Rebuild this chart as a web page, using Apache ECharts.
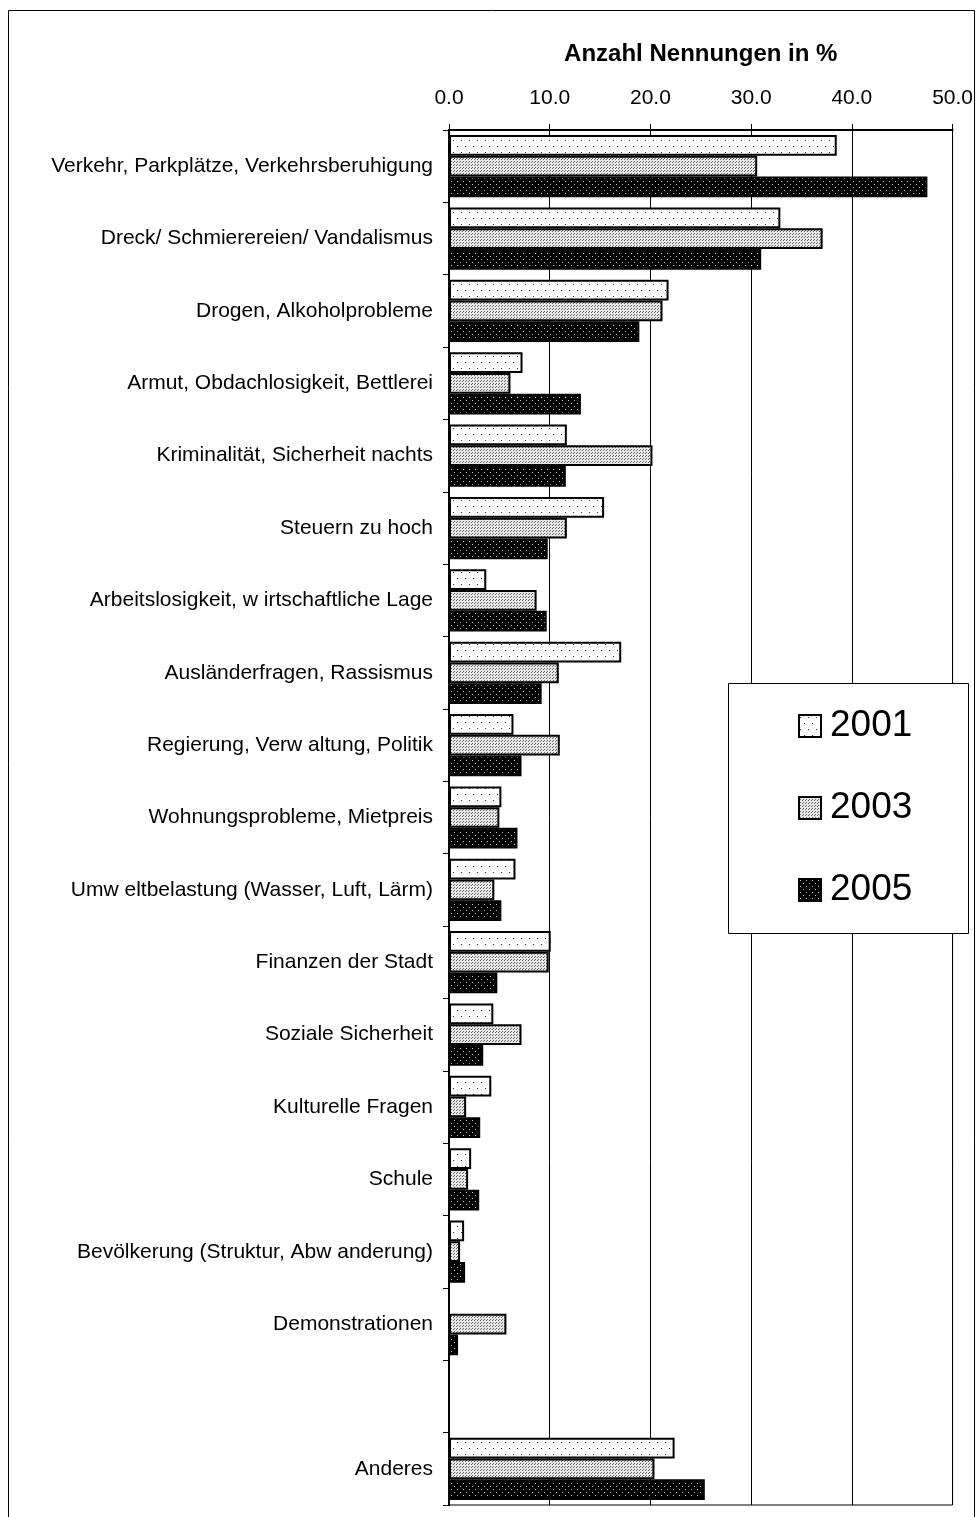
<!DOCTYPE html>
<html>
<head>
<meta charset="utf-8">
<script src="https://cdn.jsdelivr.net/npm/echarts@6/dist/echarts.min.js"></script>
<style>
  html, body { margin: 0; padding: 0; background: #fff; }
  #main { width: 976px; height: 1517px; }
</style>
</head>
<body>
<div id="main"></div>
<script>
// categories, top to bottom ('' = empty row before "Anderes")
var categories = [
  'Verkehr, Parkplätze, Verkehrsberuhigung',
  'Dreck/ Schmierereien/ Vandalismus',
  'Drogen, Alkoholprobleme',
  'Armut, Obdachlosigkeit, Bettlerei',
  'Kriminalität, Sicherheit nachts',
  'Steuern zu hoch',
  'Arbeitslosigkeit, w irtschaftliche Lage',
  'Ausländerfragen, Rassismus',
  'Regierung, Verw altung, Politik',
  'Wohnungsprobleme, Mietpreis',
  'Umw eltbelastung (Wasser, Luft, Lärm)',
  'Finanzen der Stadt',
  'Soziale Sicherheit',
  'Kulturelle Fragen',
  'Schule',
  'Bevölkerung (Struktur, Abw anderung)',
  'Demonstrationen',
  '',
  'Anderes'
];
var years = ['2001', '2003', '2005'];
var v2001 = [38.5, 32.9, 21.8, 7.3, 11.7, 15.4, 3.7, 17.1, 6.4, 5.2, 6.6, 10.1, 4.4, 4.2, 2.2, 1.5, null, null, 22.4];
var v2003 = [30.6, 37.1, 21.2, 6.1, 20.2, 11.7, 8.7, 10.9, 11.0, 5.0, 4.5, 9.9, 7.2, 1.7, 1.9, 1.1, 5.7, null, 20.4];
var v2005 = [47.5, 31.0, 18.9, 13.1, 11.6, 9.8, 9.7, 9.2, 7.2, 6.8, 5.2, 4.8, 3.4, 3.1, 3.0, 1.6, 0.9, null, 25.4];

// small dotted fill patterns
function dots(bg, fg, w, h, pts) {
  var c = document.createElement('canvas');
  c.width = w; c.height = h;
  var g = c.getContext('2d');
  g.fillStyle = bg; g.fillRect(0, 0, w, h);
  g.fillStyle = fg;
  pts.forEach(function (p) { g.fillRect(p[0], p[1], 1, 1); });
  return { image: c, repeat: 'repeat' };
}
var fills = [
  dots('#ffffff', '#333333', 8, 12, [[1, 2], [5, 8]]),
  dots('#e8e8e8', '#666666', 3, 3, [[0, 0], [1, 2]]),
  dots('#000000', '#c8c8c8', 6, 6, [[1, 1], [4, 4]])
];
var allData = [v2001, v2003, v2005];

var chart = echarts.init(document.getElementById('main'));
var option = {
  backgroundColor: '#fff',
  animation: false,
  textStyle: { fontFamily: 'Liberation Sans, Arial, sans-serif', color: '#000' },
  grid: {
    left: 449, right: 23, top: 130, bottom: 12,
    show: true, borderColor: '#000', borderWidth: 1
  },
  legend: {
    orient: 'vertical',
    left: 798, top: 706,
    padding: 0,
    icon: 'rect',
    itemWidth: 22, itemHeight: 22,
    itemGap: 42,
    textStyle: { fontSize: 37, lineHeight: 40, color: '#000', padding: [0, 0, 0, 4] },
    data: years
  },
  xAxis: {
    type: 'value',
    position: 'top',
    min: 0, max: 50, interval: 10,
    name: 'Anzahl Nennungen in %',
    nameLocation: 'middle',
    nameGap: 64,
    nameTextStyle: { fontSize: 24, fontWeight: 'bold', color: '#000' },
    axisLine: { show: true, lineStyle: { color: '#000', width: 2 } },
    axisTick: { show: true, length: 6, lineStyle: { color: '#000' } },
    axisLabel: {
      fontSize: 21, color: '#000', margin: 21,
      formatter: function (v) { return v.toFixed(1); }
    },
    splitLine: { show: true, lineStyle: { color: '#000', width: 1 } }
  },
  yAxis: {
    type: 'category',
    inverse: true,
    data: categories,
    axisLine: { show: true, lineStyle: { color: '#000', width: 2 } },
    axisTick: { show: true, length: 6, lineStyle: { color: '#000' } },
    axisLabel: { fontSize: 21, color: '#000', margin: 16 }
  },
  series: years.map(function (y, i) {
    return {
      name: y,
      type: 'bar',
      data: allData[i],
      barGap: '0%',
      barCategoryGap: '14%',
      itemStyle: { color: fills[i], borderColor: '#000', borderWidth: 2 }
    };
  }),
  graphic: [
    { type: 'rect', shape: { x: 8.5, y: 10.5, width: 966, height: 1530 },
      style: { fill: 'none', stroke: '#000', lineWidth: 1 }, silent: true, z: -1 },
    { type: 'rect', shape: { x: 728.5, y: 683.5, width: 240, height: 250 },
      style: { fill: '#fff', stroke: '#000', lineWidth: 1 }, silent: true, z: 3 }
  ]
};
chart.setOption(option);
</script>
</body>
</html>
